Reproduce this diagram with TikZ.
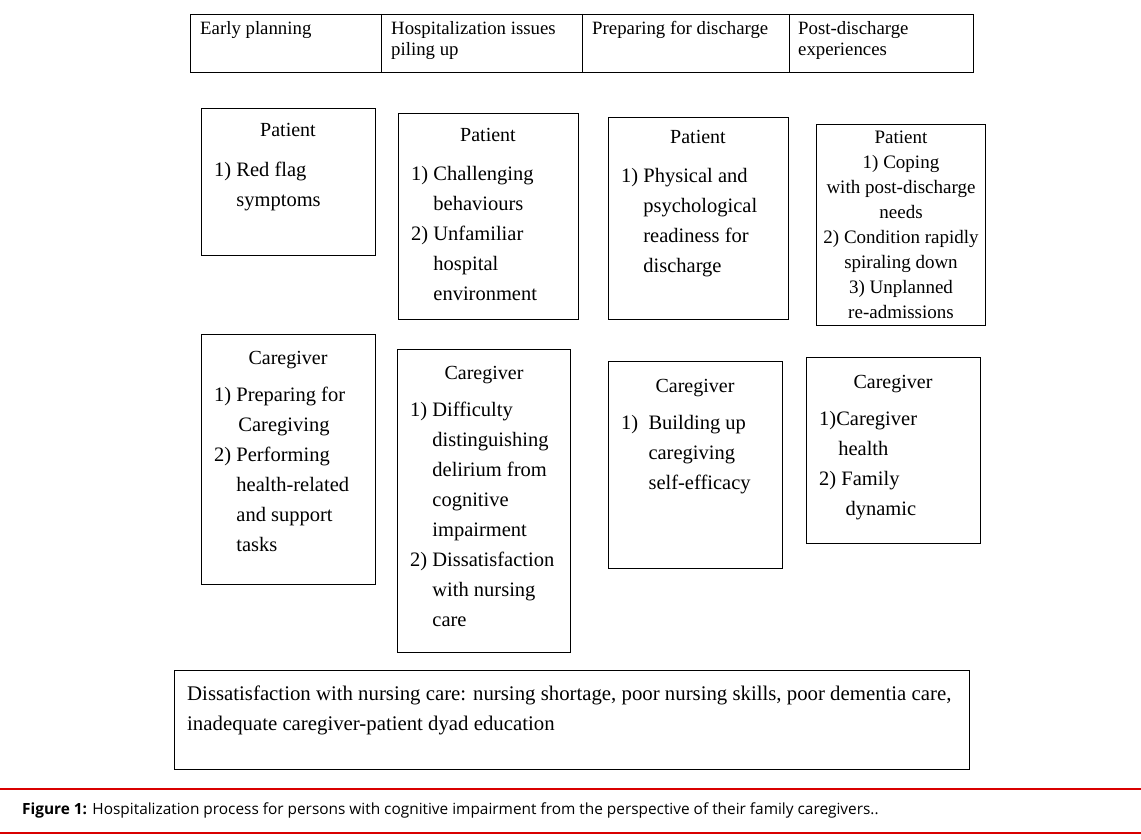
\documentclass[tikz,border=0pt]{standalone}
\usepackage{fontspec}
\setmainfont{Liberation Serif}
\newfontfamily\capfont{Open Sans}
\begin{document}
\begin{tikzpicture}[x=1pt,y=-1pt,
  bx/.style={draw,line width=0.9pt},
  ttl/.style={anchor=base,inner sep=0pt,font=\fontsize{20}{30}\selectfont},
  body/.style={anchor=north west,inner sep=0pt,align=left,font=\fontsize{20.5}{30}\selectfont},
  hd/.style={anchor=north west,inner sep=0pt,align=left,font=\fontsize{18.8}{21}\selectfont}]
\useasboundingbox (0,0) rectangle (1141,840);
% header
\draw[bx] (190,14) rectangle (973,72);
\draw[bx] (381,14) -- (381,72) (582,14) -- (582,72) (789,14) -- (789,72);
\node[hd] (h1) at (200,21) {Early planning};
\node[hd] (h2) at (391,21) {Hospitalization issues\\piling up};
\node[hd] (h3) at (592,21) {Preparing for discharge};
\node[hd] (h4) at (798,21) {Post-discharge\\experiences};
% patient boxes
\draw[bx] (201,108) rectangle (375,255);
\node[ttl] (p1t) at (288,137) {Patient};
\node[body] (p1b) at (214,155) {\begin{tabular}{@{}l@{ }l@{}}1)&Red flag\\&symptoms\end{tabular}};
\draw[bx] (398,113) rectangle (578,319);
\node[ttl] (p2t) at (488,142) {Patient};
\node[body] (p2b) at (411,159) {\begin{tabular}{@{}l@{ }l@{}}1)&Challenging\\&behaviours\\2)&Unfamiliar\\&hospital\\&environment\end{tabular}};
\draw[bx] (608,117) rectangle (788,319);
\node[ttl] (p3t) at (698,144) {Patient};
\node[body] (p3b) at (621,161) {\begin{tabular}{@{}l@{ }l@{}}1)&Physical and\\&psychological\\&readiness for\\&discharge\end{tabular}};
\draw[bx] (816,124) rectangle (985,325);
\node[anchor=north,inner sep=0pt,align=center,font=\fontsize{19}{25}\selectfont] (p4) at (901,131) {Patient\\1) Coping\\with post-discharge\\needs\\2) Condition rapidly\\spiraling down\\3) Unplanned\\re-admissions};
% caregiver boxes
\draw[bx] (201,334) rectangle (375,584);
\node[ttl] (c1t) at (288,364) {Caregiver};
\node[body] (c1b) at (214,380) {\begin{tabular}{@{}l@{ }l@{}}1)&Preparing for\\&\hspace{0.1em}Caregiving\\2)&Performing\\&health-related\\&and support\\&tasks\end{tabular}};
\draw[bx] (397,349) rectangle (570,652);
\node[ttl] (c2t) at (484,379) {Caregiver};
\node[body] (c2b) at (410,395) {\begin{tabular}{@{}l@{ }l@{}}1)&Difficulty\\&distinguishing\\&delirium from\\&cognitive\\&impairment\\2)&Dissatisfaction\\&with nursing\\&care\end{tabular}};
\draw[bx] (608,361) rectangle (782,568);
\node[ttl] (c3t) at (695,392) {Caregiver};
\node[body] (c3b) at (621,408) {\begin{tabular}{@{}l@{\ \ }l@{}}1)&Building up\\&caregiving\\&self-efficacy\end{tabular}};
\draw[bx] (806,357) rectangle (980,543);
\node[ttl] (c4t) at (893,388) {Caregiver};
\node[body] (c4b) at (819,404) {\begin{tabular}{@{}l@{}l@{}}1)&Caregiver\\&\hspace{0.1em}health\\2)&\ Family\\&\ \hspace{0.2em}dynamic\end{tabular}};
% bottom
\draw[bx] (174,670) rectangle (969,769);
\node[body,font=\fontsize{20.8}{30}\selectfont] (bt) at (187,686) {Dissatisfaction with nursing care: nursing shortage, poor nursing skills, poor dementia care,\\inadequate caregiver-patient dyad education};
% caption
\draw[red!85!black,line width=2.5pt] (0,789) -- (1141,789);
\draw[red!85!black,line width=2.5pt] (0,833) -- (1141,833);
\node[anchor=west,inner sep=0pt,font=\capfont\fontsize{15.4}{17}\selectfont] (cap) at (22,810) {\textbf{Figure 1:} Hospitalization process for persons with cognitive impairment from the perspective of their family caregivers..};
\end{tikzpicture}
\end{document}
